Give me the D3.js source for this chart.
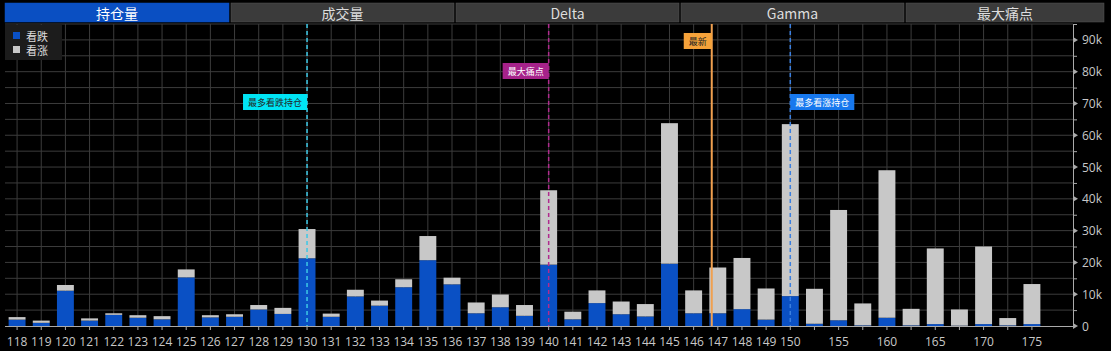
<!DOCTYPE html>
<html>
<head>
<meta charset="utf-8">
<script src="https://cdn.jsdelivr.net/npm/d3@7"></script>
<style>
  body { margin: 0; background: #000; }
  svg { display: block; }
</style>
</head>
<body>
<div id="chart"></div>
<script>
// Strikes (after 150 the step is 2.5)
const strikes = [118, 119, 120, 121, 122, 123, 124, 125, 126, 127, 128, 129, 130, 131, 132, 133, 134,
  135, 136, 137, 138, 139, 140, 141, 142, 143, 144, 145, 146, 147, 148, 149, 150,
  152.5, 155, 157.5, 160, 162.5, 165, 167.5, 170, 172.5, 175];

// 看跌 (put open interest)
const putValues = [2000, 1000, 11100, 1700, 3500, 2600, 2100, 15300, 2700, 2900, 5200, 3800, 21300, 2900, 9300, 6400, 12200,
  20700, 13100, 4000, 5900, 3200, 19300, 2100, 7200, 3700, 3000, 19600, 4000, 4000, 5300, 2000, 9400,
  700, 1800, 200, 2600, 200, 600, 100, 600, 200, 600];

// 看涨 (call open interest)
const callValues = [800, 700, 1800, 700, 500, 800, 1000, 2500, 700, 800, 1400, 1900, 9200, 1000, 2100, 1600, 2500,
  7600, 2100, 3400, 4000, 3400, 23400, 2400, 4000, 4000, 3900, 44200, 7200, 14400, 16100, 9800, 54100,
  11000, 34700, 6900, 46400, 5200, 23800, 5100, 24400, 2300, 12600];

const tabs = ["持仓量", "成交量", "Delta", "Gamma", "最大痛点"];
const yTicks = [0, 10000, 20000, 30000, 40000, 50000, 60000, 70000, 80000, 90000];

// Marker lines
const maxPutStrike = 130;
const maxPainStrike = 140;
const maxCallStrike = 150;
const latestPrice = 146.75;

const width = 1111, height = 351;
const margin = {top: 24, right: 38, bottom: 25, left: 5};
const plotRight = 1073;
const baseY = 326;
const cjk = '"Noto Sans CJK SC", "Noto Sans", sans-serif';

const svg = d3.select("#chart").append("svg")
  .attr("width", width)
  .attr("height", height)
  .style("background", "#000");

// Scales
const x = d3.scaleBand()
  .domain(strikes.map(String))
  .range([margin.left, 1044])
  .paddingInner(0.3)
  .paddingOuter(0.15);

const y = d3.scaleLinear()
  .domain([0, 95000])
  .range([baseY, margin.top]);

const cx = s => x(String(s)) + x.bandwidth() / 2;

// Price between two strikes -> interpolated x position
function priceX(p) {
  const i = d3.bisectRight(strikes, p) - 1;
  const a = strikes[i], b = strikes[i + 1];
  return cx(a) + (p - a) / (b - a) * (cx(b) - cx(a));
}

// ---- Tabs ----
const tabEdges = [5, 230, 455, 680, 905, 1105];
const tabG = svg.append("g");
tabs.forEach((t, i) => {
  const x0 = tabEdges[i] + (i === 0 ? 0 : 1), x1 = tabEdges[i + 1] - 1;
  tabG.append("rect")
    .attr("x", x0).attr("y", 3)
    .attr("width", x1 - x0).attr("height", 19)
    .attr("fill", i === 0 ? "#0a4fc2" : "#3b3b3b")
    .attr("stroke", i === 0 ? "#0a4fc2" : "#555")
    .attr("stroke-width", 0.5);
  tabG.append("text")
    .attr("x", (x0 + x1) / 2).attr("y", 13)
    .attr("text-anchor", "middle")
    .attr("dominant-baseline", "central")
    .attr("font-family", cjk)
    .attr("font-size", 14)
    .attr("fill", i === 0 ? "#fff" : "#ddd")
    .text(t);
});

// ---- Grid ----
const grid = svg.append("g");
grid.selectAll(".hgrid")
  .data(d3.range(5000, 95001, 5000))
  .join("line")
  .attr("x1", margin.left).attr("x2", plotRight)
  .attr("y1", d => y(d)).attr("y2", d => y(d))
  .attr("stroke", "#3c3c3c").attr("stroke-width", 1);

grid.selectAll(".vgrid")
  .data(strikes)
  .join("line")
  .attr("x1", d => cx(d)).attr("x2", d => cx(d))
  .attr("y1", margin.top).attr("y2", baseY)
  .attr("stroke", "#3c3c3c").attr("stroke-width", 1);

// ---- Bars ----
const rows = strikes.map((s, i) => ({strike: String(s), put: putValues[i], call: callValues[i]}));
const stack = d3.stack().keys(["put", "call"])(rows);
const colors = {put: "#0a50c4", call: "#c8c8c8"};

svg.append("g")
  .selectAll("g")
  .data(stack)
  .join("g")
  .attr("fill", d => colors[d.key])
  .selectAll("rect")
  .data(d => d)
  .join("rect")
  .attr("x", d => x(d.data.strike))
  .attr("width", x.bandwidth())
  .attr("y", d => y(d[1]))
  .attr("height", d => y(d[0]) - y(d[1]));

// ---- X axis ----
const xAxis = svg.append("g");
xAxis.append("line")
  .attr("x1", margin.left).attr("x2", plotRight)
  .attr("y1", baseY + 0.5).attr("y2", baseY + 0.5)
  .attr("stroke", "#aaa");
xAxis.selectAll(".tick")
  .data(strikes)
  .join("line")
  .attr("x1", d => cx(d)).attr("x2", d => cx(d))
  .attr("y1", baseY).attr("y2", baseY + 4)
  .attr("stroke", "#aaa");
xAxis.selectAll("text")
  .data(strikes.filter(Number.isInteger))
  .join("text")
  .attr("x", d => cx(d)).attr("y", 341)
  .attr("text-anchor", "middle")
  .attr("dominant-baseline", "central")
  .attr("font-family", '"Open Sans", "Noto Sans", sans-serif')
  .attr("font-size", 12)
  .attr("fill", "#c8c8c8")
  .text(d => d);

// ---- Y axis (right) ----
const yAxis = svg.append("g");
yAxis.append("line")
  .attr("x1", plotRight + 0.5).attr("x2", plotRight + 0.5)
  .attr("y1", margin.top).attr("y2", baseY + 1)
  .attr("stroke", "#aaa");
yAxis.selectAll(".minor")
  .data(d3.range(5000, 95001, 10000))
  .join("line")
  .attr("x1", plotRight).attr("x2", plotRight + 4)
  .attr("y1", d => y(d) + 0.5).attr("y2", d => y(d) + 0.5)
  .attr("stroke", "#aaa");
yAxis.selectAll("path")
  .data(yTicks)
  .join("path")
  .attr("d", d => `M${plotRight},${y(d) - 3}L${plotRight + 5},${y(d)}L${plotRight},${y(d) + 3}Z`)
  .attr("fill", "#aaa");
yAxis.selectAll("text")
  .data(yTicks)
  .join("text")
  .attr("x", plotRight + 9).attr("y", d => y(d))
  .attr("dominant-baseline", "central")
  .attr("font-family", '"Open Sans", "Noto Sans", sans-serif')
  .attr("font-size", 12)
  .attr("fill", "#c8c8c8")
  .text(d => d === 0 ? "0" : d / 1000 + "k");

// ---- Markers ----
const markers = [
  {x: cx(maxPutStrike), label: "最多看跌持仓", color: "#3cc8e6", bg: "#00e4f4", fg: "#222", dash: "4,3", side: "left", top: 94},
  {x: cx(maxPainStrike), label: "最大痛点", color: "#b02a8e", bg: "#a6228a", fg: "#fff", dash: "4,3", side: "left", top: 63},
  {x: priceX(latestPrice), label: "最新", color: "#f0a050", bg: "#f5a23a", fg: "#222", dash: null, side: "left", top: 33},
  {x: cx(maxCallStrike), label: "最多看涨持仓", color: "#3a7fe0", bg: "#1778ee", fg: "#fff", dash: "4,3", side: "right", top: 94}
];

const mg = svg.append("g");
markers.forEach(m => {
  mg.append("line")
    .attr("x1", m.x).attr("x2", m.x)
    .attr("y1", margin.top).attr("y2", baseY)
    .attr("stroke", m.color)
    .attr("stroke-width", m.dash ? 1.5 : 2)
    .attr("stroke-dasharray", m.dash);

  const t = mg.append("text")
    .attr("font-family", cjk)
    .attr("font-size", 9)
    .attr("fill", m.fg)
    .attr("dominant-baseline", "central")
    .attr("text-anchor", "middle")
    .text(m.label);
  const w = t.node().getComputedTextLength() + 10;
  const x0 = m.side === "left" ? m.x - w : m.x;
  mg.insert("rect", () => t.node())
    .attr("x", x0).attr("y", m.top)
    .attr("width", w).attr("height", 16)
    .attr("fill", m.bg);
  t.attr("x", x0 + w / 2).attr("y", m.top + 8);
});

// ---- Legend ----
const legend = svg.append("g");
legend.append("rect")
  .attr("x", 5).attr("y", 25)
  .attr("width", 57).attr("height", 35)
  .attr("fill", "#1c1c1c");
[["看跌", colors.put], ["看涨", colors.call]].forEach(([name, c], i) => {
  legend.append("rect")
    .attr("x", 13).attr("y", 32 + i * 14)
    .attr("width", 7).attr("height", 7)
    .attr("fill", c);
  legend.append("text")
    .attr("x", 26).attr("y", 36 + i * 14)
    .attr("dominant-baseline", "central")
    .attr("font-family", cjk)
    .attr("font-size", 11)
    .attr("fill", "#ddd")
    .text(name);
});
</script>
</body>
</html>
